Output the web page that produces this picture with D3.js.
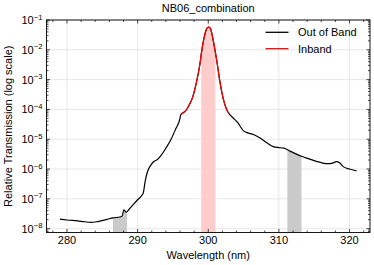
<!DOCTYPE html>
<html>
<head>
<meta charset="utf-8">
<script src="https://cdn.jsdelivr.net/npm/d3@7"></script>
<style>
  body { margin: 0; background: #fff; }
  text { font-family: "Liberation Sans", Arial, sans-serif; fill: #000; }
</style>
</head>
<body>
<div id="chart"></div>
<script>
// wavelength (nm) and log10 of the relative transmission
const wavelength = [279.0, 280.0, 281.5, 282.5, 283.4, 284.2, 284.8, 285.7, 286.5, 287.5,
  287.8, 288.05, 288.4, 288.8, 289.5, 290.0, 290.55, 290.8, 291.1, 291.4,
  291.9, 292.3, 292.8, 293.3, 294.0, 294.7, 295.4, 296.0, 296.1, 296.9,
  297.3, 297.75, 298.35, 298.8, 299.1, 299.5, 299.75, 299.9, 300.05, 300.2,
  300.35, 300.55, 300.95, 301.3, 301.65, 302.1, 302.6, 302.9, 303.5, 304.1,
  305.0, 305.5, 306.4, 307.4, 308.3, 309.2, 310.0, 310.7, 311.6, 312.5,
  313.3, 314.3, 315.4, 316.2, 317.0, 317.6, 318.2, 318.6, 319.1, 320.0,
  320.8, 321.0];
const logTrans = [-7.68, -7.71, -7.74, -7.77, -7.79, -7.77, -7.74, -7.69, -7.64, -7.61,
  -7.58, -7.37, -7.45, -7.35, -7.16, -7.03, -6.90, -6.80, -6.37, -6.09,
  -5.86, -5.75, -5.68, -5.55, -5.30, -5.02, -4.65, -4.30, -4.18, -4.02,
  -3.85, -3.62, -3.07, -2.51, -2.00, -1.50, -1.30, -1.255, -1.24, -1.255,
  -1.30, -1.50, -2.00, -2.51, -3.07, -3.62, -4.00, -4.13, -4.28, -4.42,
  -4.72, -4.78, -4.84, -4.97, -5.12, -5.25, -5.28, -5.30, -5.40, -5.50,
  -5.58, -5.66, -5.75, -5.80, -5.82, -5.80, -5.75, -5.79, -5.92, -6.00,
  -6.05, -6.06];

const inbandRange = [296.1, 302.9];
const inBand = [299, 301];
const outBands = [[286.5, 288.5], [311.2, 313.2]];

const xTicks = [280, 290, 300, 310, 320];
const yTicks = [-8, -7, -6, -5, -4, -3, -2, -1];
const legendLabels = ["Out of Band", "Inband"];
const legendColors = ["#000", "#ff0000"];

const W = 374, H = 265;
const m = {left: 46.5, right: 4, top: 20, bottom: 32.5};

const data = wavelength.map((w, i) => ({w: w, t: Math.pow(10, logTrans[i])}));
const inData = data.filter(d => d.w >= inbandRange[0] && d.w <= inbandRange[1]);

const svg = d3.select("#chart").append("svg")
  .attr("width", W).attr("height", H);

const x = d3.scaleLinear().domain([277.1, 322.9]).range([m.left, W - m.right]);
const y = d3.scaleLog().domain([Math.pow(10, -8.13), 0.1]).range([H - m.bottom, m.top]);

// grid
svg.append("g").selectAll("line").data(xTicks).join("line")
  .attr("x1", d => x(d)).attr("x2", d => x(d))
  .attr("y1", m.top).attr("y2", H - m.bottom)
  .attr("stroke", "#dedede").attr("stroke-width", 0.7);
svg.append("g").selectAll("line").data(yTicks).join("line")
  .attr("x1", m.left).attr("x2", W - m.right)
  .attr("y1", d => y(Math.pow(10, d))).attr("y2", d => y(Math.pow(10, d)))
  .attr("stroke", "#dedede").attr("stroke-width", 0.7);

// shaded bands under the curve
const area = d3.area().curve(d3.curveMonotoneX)
  .x(d => x(d.w)).y0(H - m.bottom).y1(d => y(d.t));
const defs = svg.append("defs");
function band(range, id, color) {
  defs.append("clipPath").attr("id", id).append("rect")
    .attr("x", x(range[0])).attr("width", x(range[1]) - x(range[0]))
    .attr("y", m.top).attr("height", H - m.top - m.bottom);
  svg.append("path").datum(data)
    .attr("d", area).attr("fill", color)
    .attr("clip-path", "url(#" + id + ")");
}
outBands.forEach((b, i) => band(b, "ob" + i, "#cacaca"));
band(inBand, "ib", "#ffcccc");

// curves
const line = d3.line().curve(d3.curveMonotoneX).x(d => x(d.w)).y(d => y(d.t));
svg.append("path").datum(data).attr("d", line)
  .attr("fill", "none").attr("stroke", "#000").attr("stroke-width", 1.2);
svg.append("path").datum(inData).attr("d", line)
  .attr("fill", "none").attr("stroke", "#ff0000").attr("stroke-width", 1.2);

// axes (ticks inside, on all sides)
const bottom = H - m.bottom, right = W - m.right;
const xMinor = d3.range(278, 323, 2).filter(v => v % 10 !== 0);
const yMinor = [];
for (let e = -9; e < -1; e++) for (let k = 2; k <= 9; k++) {
  const v = k * Math.pow(10, e);
  if (v >= y.domain()[0] && v <= 0.1) yMinor.push(v);
}
const tk = svg.append("g").attr("stroke", "#000").attr("stroke-width", 0.7);
function xt(vals, len) {
  vals.forEach(v => {
    tk.append("line").attr("x1", x(v)).attr("x2", x(v)).attr("y1", bottom).attr("y2", bottom - len);
    tk.append("line").attr("x1", x(v)).attr("x2", x(v)).attr("y1", m.top).attr("y2", m.top + len);
  });
}
function yt(vals, len) {
  vals.forEach(v => {
    tk.append("line").attr("y1", y(v)).attr("y2", y(v)).attr("x1", m.left).attr("x2", m.left + len);
    tk.append("line").attr("y1", y(v)).attr("y2", y(v)).attr("x1", right).attr("x2", right - len);
  });
}
xt(xTicks, 3.5); xt(xMinor, 2);
yt(yTicks.map(e => Math.pow(10, e)), 3.5); yt(yMinor, 2);

svg.append("rect").attr("x", m.left).attr("y", m.top)
  .attr("width", right - m.left).attr("height", bottom - m.top)
  .attr("fill", "none").attr("stroke", "#000").attr("stroke-width", 0.9);

// tick labels
svg.append("g").selectAll("text").data(xTicks).join("text")
  .attr("x", d => x(d)).attr("y", bottom + 11).attr("text-anchor", "middle")
  .attr("font-size", 11).text(d => d);
const yl = svg.append("g").selectAll("text").data(yTicks).join("text")
  .attr("x", m.left - 4).attr("y", d => y(Math.pow(10, d)) + 4)
  .attr("text-anchor", "end").attr("font-size", 11);
yl.append("tspan").text("10");
yl.append("tspan").attr("dy", -4.5).attr("font-size", 7.7).text(d => "\u2212" + (-d));

// titles
svg.append("text").attr("x", (m.left + right) / 2).attr("y", 12)
  .attr("text-anchor", "middle").attr("font-size", 11).text("NB06_combination");
svg.append("text").attr("x", (m.left + right) / 2).attr("y", 258.5)
  .attr("text-anchor", "middle").attr("font-size", 11).text("Wavelength (nm)");
svg.append("text").attr("transform", "translate(11.5," + ((m.top + bottom) / 2) + ") rotate(-90)")
  .attr("text-anchor", "middle").attr("font-size", 11).text("Relative Transmission (log scale)");

// legend
const lg = svg.append("g").selectAll("g").data(legendLabels).join("g")
  .attr("transform", (d, i) => "translate(265.5," + (32.3 + i * 16.4) + ")");
lg.append("line").attr("x1", 0).attr("x2", 23)
  .attr("stroke", (d, i) => legendColors[i]).attr("stroke-width", 1.3);
lg.append("text").attr("x", 32.5).attr("y", 4).attr("font-size", 11).text(d => d);
</script>
</body>
</html>
